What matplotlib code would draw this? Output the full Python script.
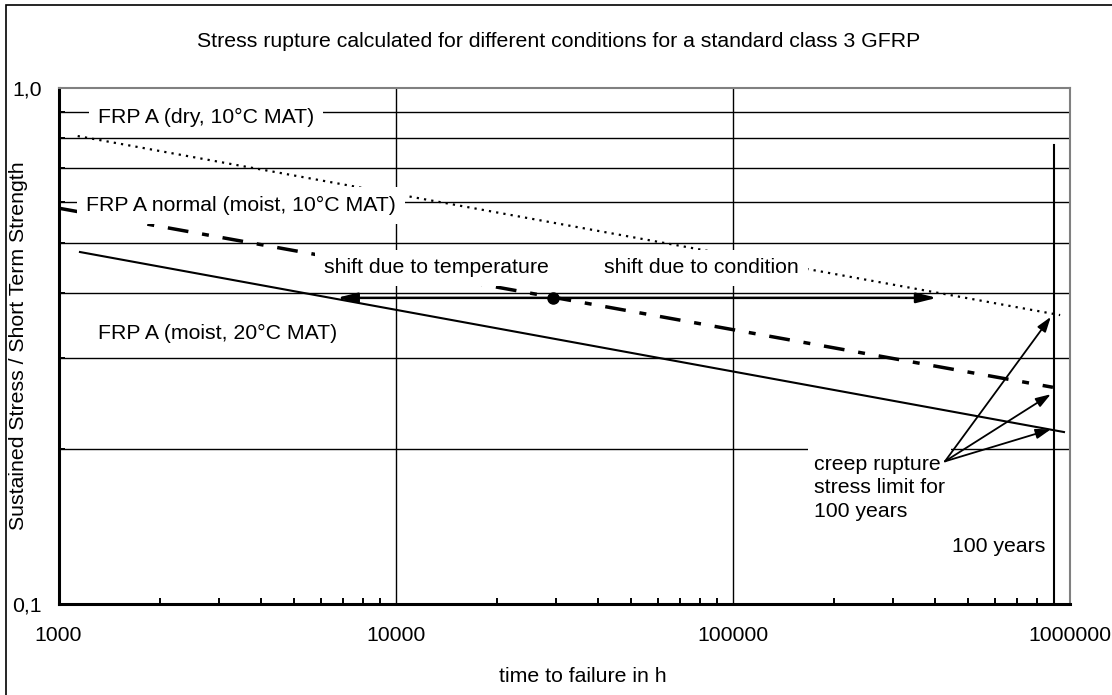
import matplotlib
matplotlib.use('Agg')
import matplotlib.pyplot as plt
from matplotlib.patches import Rectangle
from matplotlib.ticker import FixedLocator, FixedFormatter, NullFormatter

plt.rcParams['font.family'] = ['Liberation Sans', 'DejaVu Sans']

# time to failure in h / stress ratio at the ends of each line
t_dry = [1140, 938000]
s_dry = [0.807, 0.363]
t_normal = [1000, 893000]
s_normal = [0.585, 0.263]
t_moist20 = [1158, 963000]
s_moist20 = [0.481, 0.2154]

# reference point and the two shifts
t_ref = 29300
s_ref = 0.392
t_shift_temp = 6700
t_shift_cond = 404000

# 100 years and the rupture limits there
t_100y = 900000
s_100y_top = 0.775
t_limit = 880000
s_limit = [0.360, 0.255, 0.218]
t_creep_note = 427000
s_creep_note = 0.189

x_ticks = [1000, 10000, 100000, 1000000]
x_tick_labels = ['1000', '10000', '100000', '1000000']
y_ticks = [0.1, 1.0]
y_tick_labels = ['0,1', '1,0']
y_grid = [0.2, 0.3, 0.4, 0.5, 0.6, 0.7, 0.8, 0.9]

fs = 15.3
W, H = 1112, 695
fig = plt.figure(figsize=(W / 100, H / 100), dpi=100)
ax = fig.add_axes([58.5 / W, 91 / H, 1011 / W, 516 / H])
ax.set_xscale('log')
ax.set_yscale('log')
ax.set_xlim(1000, 1000000)
ax.set_ylim(0.1, 1.0)

# grid
for s in y_grid:
    ax.axhline(s, color='black', lw=1.0, zorder=1)
for t in x_ticks[1:-1]:
    ax.axvline(t, color='black', lw=1.0, zorder=1)
ax.plot([t_100y, t_100y], [0.1, s_100y_top], color='black', lw=1.5, zorder=1)

# stress rupture lines
ax.plot(t_dry, s_dry, color='black', lw=1.6, linestyle=(0, (1, 2.3)), zorder=2)
ax.plot(t_normal, s_normal, color='black', lw=2.5, dashes=(6, 4, 2, 4), zorder=2)
ax.plot(t_moist20, s_moist20, color='black', lw=1.5, zorder=2)

ax.plot(t_ref, s_ref, 'o', color='black', ms=8, zorder=3)
shift_arrow = dict(arrowstyle='-|>,head_length=0.6,head_width=0.15', color='black',
                   lw=1.8, mutation_scale=20, shrinkA=0, shrinkB=0)
ax.annotate('', xy=(t_shift_temp, s_ref), xytext=(t_ref, s_ref), arrowprops=shift_arrow, zorder=3)
ax.annotate('', xy=(t_shift_cond, s_ref), xytext=(t_ref, s_ref), arrowprops=shift_arrow, zorder=3)

limit_arrow = dict(arrowstyle='-|>,head_length=0.6,head_width=0.2', color='black',
                   lw=1.3, mutation_scale=15, shrinkA=0, shrinkB=0)
for s in s_limit:
    ax.annotate('', xy=(t_limit, s), xytext=(t_creep_note, s_creep_note),
                arrowprops=limit_arrow, zorder=3)

box = dict(boxstyle='square,pad=0.42', fc='white', ec='none')
ax.text(1310, 0.875, 'FRP A (dry, 10°C MAT)', fontsize=fs, va='center', bbox=box, zorder=5)
ax.text(1207, 0.591, 'FRP A normal (moist, 10°C MAT)', fontsize=fs, va='center', bbox=box, zorder=5)
ax.text(6140, 0.448, 'shift due to temperature', fontsize=fs, va='center', bbox=box, zorder=5)
ax.text(41600, 0.448, 'shift due to condition', fontsize=fs, va='center', bbox=box, zorder=5)
ax.text(1310, 0.335, 'FRP A (moist, 20°C MAT)', fontsize=fs, va='center', bbox=box, zorder=5)
ax.text(174500, 0.168, 'creep rupture\nstress limit for\n100 years', fontsize=fs, va='center',
        linespacing=1.3, bbox=dict(boxstyle='square,pad=0.3', fc='white', ec='none'), zorder=2.5)
ax.text(448000, 0.129, '100 years', fontsize=fs, va='center', zorder=5)

# axes and ticks
ax.xaxis.set_major_locator(FixedLocator(x_ticks))
ax.xaxis.set_major_formatter(FixedFormatter(x_tick_labels))
ax.xaxis.set_minor_locator(FixedLocator([m * 10 ** e for e in (3, 4, 5) for m in range(2, 10)]))
ax.xaxis.set_minor_formatter(NullFormatter())
ax.yaxis.set_major_locator(FixedLocator(y_ticks))
ax.yaxis.set_major_formatter(FixedFormatter(y_tick_labels))
ax.yaxis.set_minor_locator(FixedLocator(y_grid))
ax.yaxis.set_minor_formatter(NullFormatter())
ax.tick_params(axis='x', which='major', length=0, pad=16, labelsize=fs)
ax.tick_params(axis='y', which='major', length=0, pad=12, labelsize=fs)
ax.tick_params(which='minor', direction='in', length=4, width=1.4, color='black')

for side in ('left', 'bottom'):
    ax.spines[side].set_linewidth(2.2)
    ax.spines[side].set_color('black')
for side in ('top', 'right'):
    ax.spines[side].set_linewidth(1.5)
    ax.spines[side].set_color('#808080')

fig.text(0.502, 0.941, 'Stress rupture calculated for different conditions for a standard class 3 GFRP',
         ha='center', va='center', fontsize=fs)
fig.text(0.524, 0.026, 'time to failure in h', ha='center', va='center', fontsize=fs)
fig.text(0.017, 0.502, 'Sustained Stress / Short Term Strength', ha='center', va='center',
         rotation=90, fontsize=fs)

# frame around the whole chart
fig.add_artist(Rectangle((6 / W, -0.1), 1.2, 1.1 - 5 / H, transform=fig.transFigure,
                         fill=False, ec='black', lw=1.2))

fig.savefig('out.png', dpi=100)
